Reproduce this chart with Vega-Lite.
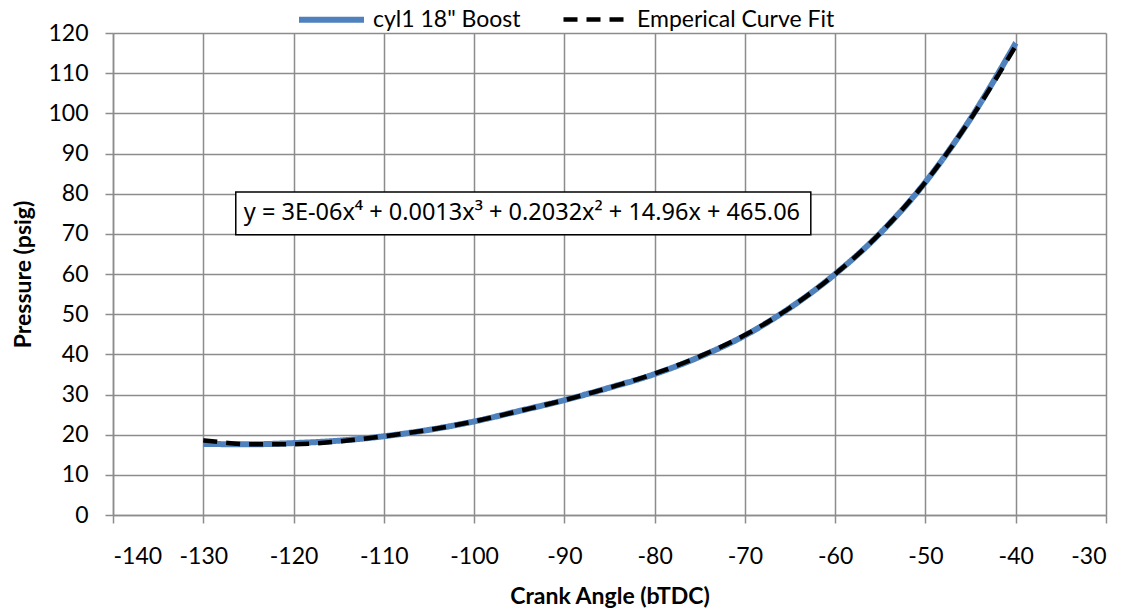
{
  "$schema": "https://vega.github.io/schema/vega-lite/v6.json",
  "width": 993,
  "height": 482,
  "autosize": {"type": "none"},
  "padding": {"left": 113, "top": 33, "right": 25, "bottom": 98},
  "background": "white",
  "config": {
    "font": "Lato",
    "view": {"stroke": null},
    "axis": {
      "gridColor": "#8c8c8c", "gridWidth": 1.5, "gridOpacity": 1,
      "domainColor": "#8c8c8c", "domainWidth": 1.5,
      "tickColor": "#8c8c8c", "tickWidth": 1.5, "tickSize": 8,
      "labelFont": "Lato", "labelFontSize": 23, "labelColor": "black",
      "titleFont": "Lato", "titleFontSize": 23, "titleFontWeight": "bold", "titleColor": "black"
    }
  },
  "datasets": {
    "curves": [
      {"angle": -130, "pressure": 17.7, "series": "cyl1 18\" Boost"},
      {"angle": -125, "pressure": 17.6, "series": "cyl1 18\" Boost"},
      {"angle": -120, "pressure": 17.9, "series": "cyl1 18\" Boost"},
      {"angle": -115, "pressure": 18.5, "series": "cyl1 18\" Boost"},
      {"angle": -110, "pressure": 19.6, "series": "cyl1 18\" Boost"},
      {"angle": -105, "pressure": 21.2, "series": "cyl1 18\" Boost"},
      {"angle": -100, "pressure": 23.3, "series": "cyl1 18\" Boost"},
      {"angle": -95, "pressure": 25.9, "series": "cyl1 18\" Boost"},
      {"angle": -90, "pressure": 28.6, "series": "cyl1 18\" Boost"},
      {"angle": -85, "pressure": 31.7, "series": "cyl1 18\" Boost"},
      {"angle": -80, "pressure": 35.1, "series": "cyl1 18\" Boost"},
      {"angle": -75, "pressure": 39.4, "series": "cyl1 18\" Boost"},
      {"angle": -70, "pressure": 44.7, "series": "cyl1 18\" Boost"},
      {"angle": -65, "pressure": 51.6, "series": "cyl1 18\" Boost"},
      {"angle": -60, "pressure": 60.0, "series": "cyl1 18\" Boost"},
      {"angle": -55, "pressure": 70.2, "series": "cyl1 18\" Boost"},
      {"angle": -50, "pressure": 82.9, "series": "cyl1 18\" Boost"},
      {"angle": -45, "pressure": 98.7, "series": "cyl1 18\" Boost"},
      {"angle": -40, "pressure": 117.5, "series": "cyl1 18\" Boost"},
      {"angle": -130, "pressure": 18.6, "series": "Emperical Curve Fit"},
      {"angle": -127.5, "pressure": 18.0, "series": "Emperical Curve Fit"},
      {"angle": -125, "pressure": 17.6, "series": "Emperical Curve Fit"},
      {"angle": -120, "pressure": 17.6, "series": "Emperical Curve Fit"},
      {"angle": -115, "pressure": 18.3, "series": "Emperical Curve Fit"},
      {"angle": -110, "pressure": 19.6, "series": "Emperical Curve Fit"},
      {"angle": -105, "pressure": 21.2, "series": "Emperical Curve Fit"},
      {"angle": -100, "pressure": 23.3, "series": "Emperical Curve Fit"},
      {"angle": -95, "pressure": 25.9, "series": "Emperical Curve Fit"},
      {"angle": -90, "pressure": 28.6, "series": "Emperical Curve Fit"},
      {"angle": -85, "pressure": 31.7, "series": "Emperical Curve Fit"},
      {"angle": -80, "pressure": 35.2, "series": "Emperical Curve Fit"},
      {"angle": -75, "pressure": 39.5, "series": "Emperical Curve Fit"},
      {"angle": -70, "pressure": 44.8, "series": "Emperical Curve Fit"},
      {"angle": -65, "pressure": 51.6, "series": "Emperical Curve Fit"},
      {"angle": -60, "pressure": 60.0, "series": "Emperical Curve Fit"},
      {"angle": -55, "pressure": 70.2, "series": "Emperical Curve Fit"},
      {"angle": -50, "pressure": 82.9, "series": "Emperical Curve Fit"},
      {"angle": -45, "pressure": 98.6, "series": "Emperical Curve Fit"},
      {"angle": -40, "pressure": 116.8, "series": "Emperical Curve Fit"}
    ],
    "note": [
      {"label": "y = 3E-06x⁴ + 0.0013x³ + 0.2032x² + 14.96x + 465.06", "x1": -126.4, "x2": -62.7, "y1": 80.4, "y2": 69.8, "xm": -94.7, "ym": 75.1}
    ]
  },
  "layer": [
    {
      "data": {"name": "curves"},
      "mark": {"type": "line", "interpolate": "monotone", "strokeCap": "butt"},
      "encoding": {
        "x": {
          "field": "angle", "type": "quantitative",
          "scale": {"domain": [-140, -30], "nice": false},
          "axis": {"values": [-140, -130, -120, -110, -100, -90, -80, -70, -60, -50, -40, -30], "title": "Crank Angle (bTDC)", "labelPadding": 22, "titlePadding": 17, "labelExpr": "replace(datum.label, '−', '-')"}
        },
        "y": {
          "field": "pressure", "type": "quantitative",
          "scale": {"domain": [0, 120], "nice": false},
          "axis": {"values": [0, 10, 20, 30, 40, 50, 60, 70, 80, 90, 100, 110, 120], "title": "Pressure (psig)", "labelPadding": 17, "titlePadding": 12}
        },
        "color": {
          "field": "series", "type": "nominal",
          "scale": {"domain": ["cyl1 18\" Boost", "Emperical Curve Fit"], "range": ["#4f81bd", "#000000"]},
          "legend": {
            "orient": "none", "legendX": 183, "legendY": -49, "direction": "horizontal",
            "title": null, "symbolType": "stroke", "symbolSize": 4225, "symbolStrokeWidth": 5,
            "labelFontSize": 23, "labelFont": "Lato", "labelColor": "black", "labelLimit": 0,
            "columnPadding": 33, "labelOffset": 6
          }
        },
        "strokeDash": {
          "field": "series", "type": "nominal",
          "scale": {"domain": ["cyl1 18\" Boost", "Emperical Curve Fit"], "range": [[1, 0], [14, 9]]},
          "legend": null
        },
        "strokeWidth": {
          "field": "series", "type": "nominal",
          "scale": {"domain": ["cyl1 18\" Boost", "Emperical Curve Fit"], "range": [6, 4.5]},
          "legend": null
        }
      }
    },
    {
      "data": {"name": "note"},
      "mark": {"type": "rect", "fill": "white", "stroke": "black", "strokeWidth": 1.5},
      "encoding": {
        "x": {"field": "x1", "type": "quantitative"},
        "x2": {"field": "x2"},
        "y": {"field": "y1", "type": "quantitative"},
        "y2": {"field": "y2"}
      }
    },
    {
      "data": {"name": "note"},
      "mark": {"type": "text", "font": "Noto Sans", "fontSize": 23.5, "color": "black", "align": "center", "baseline": "middle"},
      "encoding": {
        "x": {"field": "xm", "type": "quantitative"},
        "y": {"field": "ym", "type": "quantitative"},
        "text": {"field": "label"}
      }
    }
  ]
}
